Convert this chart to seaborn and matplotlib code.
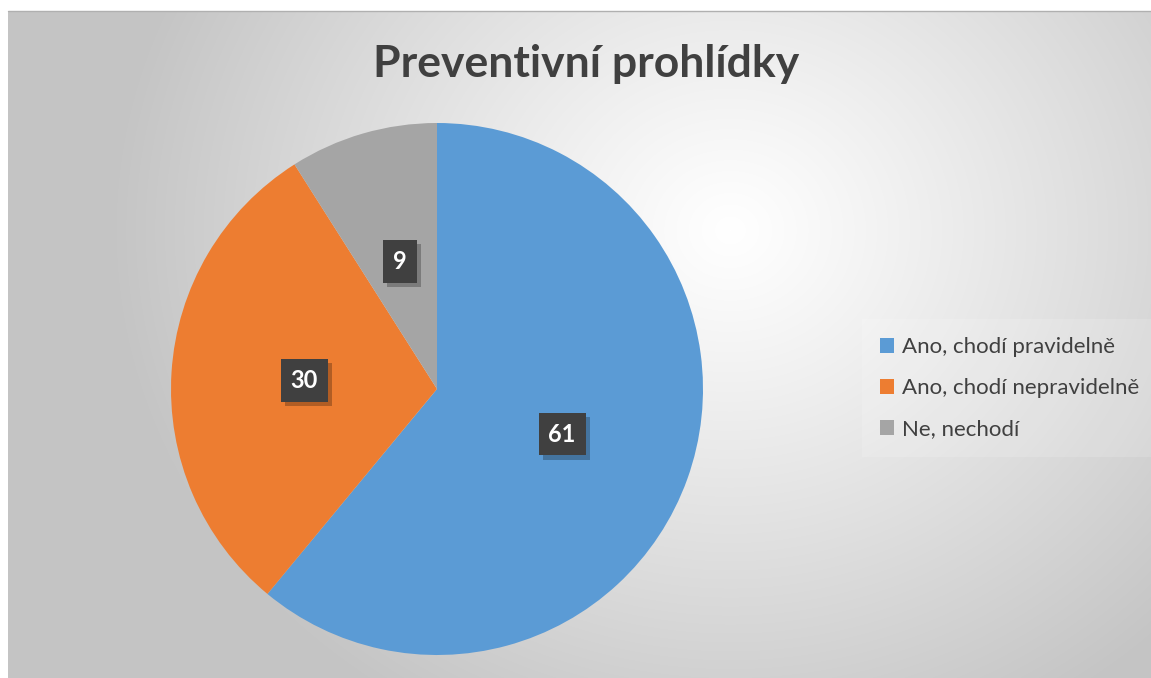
import numpy as np
import pandas as pd
import matplotlib
matplotlib.use("Agg")
import matplotlib.pyplot as plt
import matplotlib.patheffects as pe
import seaborn as sns

categories = ["Ano, chodí pravidelně", "Ano, chodí nepravidelně", "Ne, nechodí"]
values = [61, 30, 9]
colors = ["#5B9BD5", "#ED7D31", "#A5A5A5"]
title = "Preventivní prohlídky"

sns.set_theme(style="white")
plt.rcParams['font.family'] = ['Lato', 'DejaVu Sans']

df = pd.DataFrame({"cat": categories, "val": values})
palette = sns.color_palette(colors)

W, H = 1151, 678
fig = plt.figure(figsize=(W / 100, H / 100), dpi=100)
fig.patch.set_facecolor("white")

# background radial gradient inside chart area
bg = fig.add_axes([8 / W, 0, (W - 8) / W, (H - 11) / H], zorder=0)
yy, xx = np.mgrid[11:H, 8:W]
d = np.sqrt(((xx - 730) / 1.0) ** 2 + ((yy - 230) / 0.9) ** 2)
t = np.clip(d / 620, 0, 1) ** 1.1
light, dark = 1.0, 0.77
g = light - (light - dark) * t
img = np.dstack([g, g, g])
bg.imshow(img, aspect="auto", extent=[0, 1, 0, 1], interpolation="bilinear")
bg.set_xlim(0, 1); bg.set_ylim(0, 1)
bg.axis("off")
fig.add_artist(plt.Line2D([8 / W, 1], [1 - 11 / H, 1 - 11 / H], color="#b0b0b0", lw=1))

# pie axes
cx, cy, r = 437, 389, 266
ax = fig.add_axes([(cx - r) / W, (H - cy - r) / H, 2 * r / W, 2 * r / H], zorder=2)
ax.set_facecolor("none")
wedges, texts, autotexts = ax.pie(
    df["val"], colors=palette, startangle=90, counterclock=False,
    radius=1, autopct=lambda p: "{:.0f}".format(p), pctdistance=0.5,
    wedgeprops=dict(linewidth=0),
    textprops=dict(color="white", fontsize=17, fontweight="bold"))
for at in autotexts:
    at.set_bbox(dict(boxstyle="square,pad=0.42", facecolor="#404040", edgecolor="none"))
    at.get_bbox_patch().set_path_effects([
        pe.withSimplePatchShadow(offset=(3, -3), shadow_rgbFace="black", alpha=0.25),
        pe.Normal()])
ax.set_xlim(-1, 1); ax.set_ylim(-1, 1)
ax.set_aspect("equal")
ax.axis("off")

fig.text(586 / W, 1 - 64 / H, title, ha="center", va="center",
         fontsize=32, fontweight="bold", color="#404040", zorder=3)

leg = fig.legend(wedges, categories, loc="center left",
                 bbox_to_anchor=(862 / W, 1 - 388 / H), frameon=True,
                 fontsize=16, labelcolor="#404040", handlelength=0.65,
                 handleheight=0.65, handletextpad=0.35, labelspacing=0.95,
                 borderpad=0.8, borderaxespad=0, fancybox=False)
leg.get_frame().set_facecolor("white")
leg.get_frame().set_alpha(0.15)
leg.get_frame().set_edgecolor("none")

fig.savefig("out.png", dpi=100)
